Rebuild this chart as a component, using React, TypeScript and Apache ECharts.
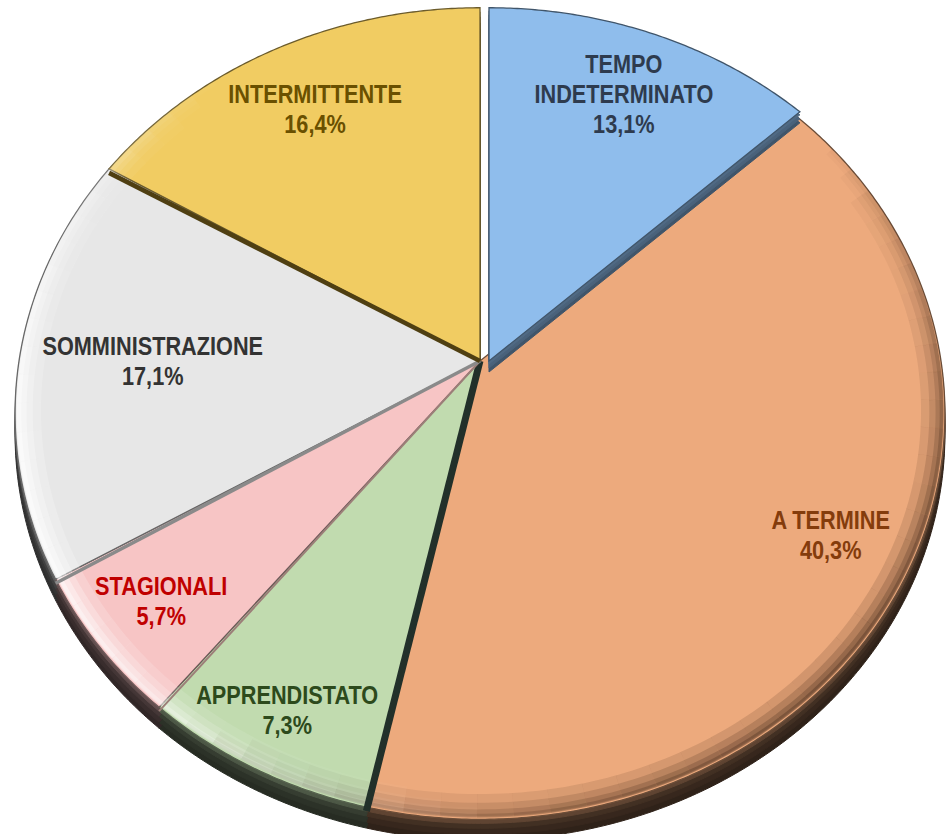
import React, { useEffect, useRef } from "react";
import * as echarts from "echarts";

// ---- data ----
const categories = ["TEMPO\nINDETERMINATO", "A TERMINE", "APPRENDISTATO", "STAGIONALI", "SOMMINISTRAZIONE", "INTERMITTENTE"];
const shares = [13.1, 40.3, 7.3, 5.7, 17.1, 16.4];
const sliceColors = ["#8FBDEC", "#EDAA7D", "#C1DBAF", "#F7C5C5", "#E7E7E7", "#F1CC62"];
const labelColors = ["#2E3B4E", "#843C0C", "#2D4A1C", "#C00000", "#333333", "#6A5000"];
const explodedSlices = [true, false, false, false, false, false];

// ---- style / layout config ----
const labelRadius = [0.8, 0.83, 0.87, 0.85, 0.71, 0.79];
const edgeLine = [
  { w: 0, c: "#000" },
  { w: 0, c: "#000" },
  { w: 7, c: "#22302A" },
  { w: 2, c: "#9C7E78" },
  { w: 3.5, c: "#8A8A8A" },
  { w: 4.5, c: "#4F3F12" },
];
const GEOM = { cx: 480, cy: 361, rx: 461, ry: 399, k: 0.1295 };
const EXPLODE = [9, 0];
const FONT = '"Liberation Sans", Arial, sans-serif';

function shade(hex: string, f: number) {
  const n = parseInt(hex.slice(1), 16);
  const r = Math.round(((n >> 16) & 255) * f);
  const g = Math.round(((n >> 8) & 255) * f);
  const b = Math.round((n & 255) * f);
  return `rgb(${r},${g},${b})`;
}

function proj(u: number, v: number, dx = 0, dy = 0) {
  const w = 1 - GEOM.k * v;
  return [GEOM.cx + (GEOM.rx * u) / w + dx, GEOM.cy + (GEOM.ry * v) / w + dy];
}
function ptAt(theta: number, r: number, dx = 0, dy = 0) {
  const t = (theta * Math.PI) / 180;
  return proj(r * Math.sin(t), -r * Math.cos(t), dx, dy);
}
function sectorPts(a0: number, a1: number, dx: number, dy: number) {
  const pts: number[][] = [proj(0, 0, dx, dy)];
  const steps = Math.max(2, Math.ceil((a1 - a0) / 0.5));
  for (let i = 0; i <= steps; i++) pts.push(ptAt(a0 + ((a1 - a0) * i) / steps, 1, dx, dy));
  return pts;
}

const total = shares.reduce((a, b) => a + b, 0);
const startAngles: number[] = [];
{
  let acc = 0;
  shares.forEach((s) => {
    startAngles.push((acc / total) * 360);
    acc += s;
  });
}

const lightBands = [
  { w: 24, k: 0.22 },
  { w: 16, k: 0.3 },
  { w: 10, k: 0.4 },
  { w: 5, k: 0.45 },
];
const darkBands = [
  { w: 22, k: 0.22 },
  { w: 14, k: 0.28 },
  { w: 8, k: 0.34 },
  { w: 4, k: 0.4 },
];

export default function App() {
  const ref = useRef<HTMLDivElement>(null);
  useEffect(() => {
    if (!ref.current) return;
    const chart = echarts.init(ref.current, null, { renderer: "svg" });
    const renderItem = (params: any, api: any) => {
      const i = params.dataIndex;
      const val = api.value(0) as number;
      const a0 = startAngles[i];
      const a1 = a0 + (val / total) * 360;
      const ex = explodedSlices[i];
      const [ox, oy] = ex ? EXPLODE : [0, 0];
      const base = ex ? 50 : 0;
      const col = sliceColors[i];
      const children: any[] = [];
      // rim (side) layers
      const layers = ex
        ? [
            { d: 11, f: 0.45 },
            { d: 7, f: 0.52 },
            { d: 3, f: 0.56 },
          ]
        : [
            { d: 21, f: 0.2 },
            { d: 15, f: 0.23 },
            { d: 9, f: 0.28 },
            { d: 4, f: 0.4 },
          ];
      layers.forEach((l, li) => {
        children.push({
          type: "polygon",
          z2: base + 1 + li,
          shape: { points: sectorPts(a0, a1, ox, oy + l.d) },
          style: { fill: shade(col, l.f), stroke: shade(col, l.f), lineWidth: 1 },
        });
      });
      // face
      children.push({
        type: "polygon",
        z2: base + 10,
        shape: { points: sectorPts(a0, a1, ox, oy) },
        style: { fill: col, stroke: shade(col, 0.45), lineWidth: 1.3 },
      });
      // bevel shading along the outer edge: light on lower-left, dark on right/bottom
      const segStep = 4;
      const nSeg = Math.max(1, Math.round((a1 - a0) / segStep));
      for (let s = 0; s < nSeg; s++) {
        const t = a0 + ((a1 - a0) * s) / nSeg;
        const t1 = a0 + ((a1 - a0) * (s + 1)) / nSeg;
        const mid = (t + t1) / 2;
        const cl = Math.cos(((mid - 250) * Math.PI) / 180);
        const light = cl > 0 ? 0.95 * Math.pow(cl, 3) : 0;
        const cd = Math.cos(((mid - 135) * Math.PI) / 180);
        const dark = cd > 0 ? 0.6 * Math.pow(cd, 1.5) : 0;
        const mk = (b: { w: number; k: number }, alpha: number, rgb: string, z: number) => {
          const rc = 1 - (b.w / 2 + 1) / 440;
          const pts: number[][] = [];
          for (let q = 0; q <= 4; q++) pts.push(ptAt(t + ((t1 - t) * q) / 4, rc, ox, oy));
          children.push({
            type: "polyline",
            z2: z,
            shape: { points: pts },
            style: { stroke: `rgba(${rgb},${alpha.toFixed(3)})`, lineWidth: b.w, fill: null, lineCap: "butt" },
          });
        };
        lightBands.forEach((b, bi) => {
          const a = light * b.k;
          if (a >= 0.02) mk(b, a, "255,255,255", base + 12 + bi);
        });
        darkBands.forEach((b, bi) => {
          const a = dark * b.k;
          if (a >= 0.02) mk(b, a, "35,18,8", base + 12 + bi);
        });
      }
      // dark radial edge at start of slice
      const el = edgeLine[i];
      if (el.w > 0) {
        const p0 = proj(0, 0, ox, oy);
        const p1 = ptAt(a0, 1, ox, oy);
        children.push({
          type: "line",
          z2: base + 20,
          shape: { x1: p0[0], y1: p0[1], x2: p1[0], y2: p1[1] + 4 },
          style: { stroke: el.c, lineWidth: el.w },
        });
      }
      // label
      const mid = (a0 + a1) / 2;
      const lp = ptAt(mid, labelRadius[i], ox, oy);
      children.push({
        type: "text",
        z2: 100,
        x: lp[0],
        y: lp[1],
        scaleX: 0.835,
        style: {
          text: `${categories[i]}\n${val.toFixed(1).replace(".", ",")}%`,
          fill: labelColors[i],
          fontFamily: FONT,
          fontWeight: "bold",
          fontSize: 26,
          lineHeight: 30,
          align: "center",
          verticalAlign: "middle",
        },
      });
      return { type: "group", children };
    };
    chart.setOption({
      animation: false,
      backgroundColor: "#ffffff",
      series: [
        {
          type: "custom",
          coordinateSystem: "none",
          renderItem,
          data: shares.map((v, i) => ({ name: categories[i], value: [v] })),
        },
      ],
    });
    return () => chart.dispose();
  }, []);
  return <div ref={ref} style={{ position: "absolute", left: 0, top: 0, width: 946, height: 834 }} />;
}
